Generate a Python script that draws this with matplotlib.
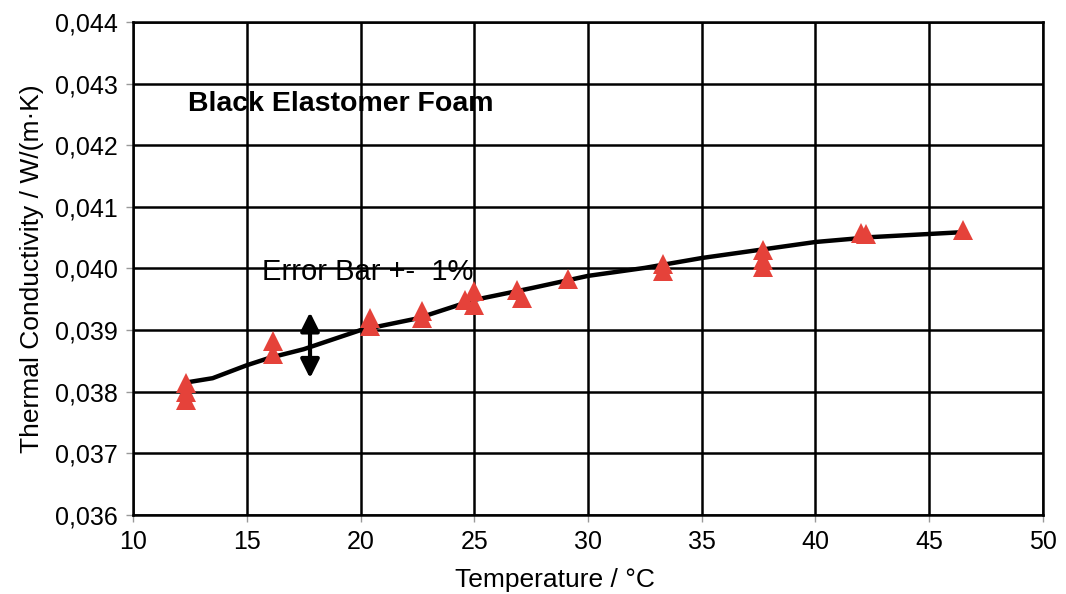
import matplotlib
matplotlib.use('Agg')
import matplotlib.pyplot as plt
from matplotlib.ticker import FuncFormatter

plt.rcParams['font.family'] = ['Liberation Sans', 'DejaVu Sans']

# measured points (temperature / degC, conductivity / W/(m K))
temp_pts = [12.33, 12.33, 12.33, 16.15, 16.15, 20.42, 20.42, 22.7, 22.7,
            24.6, 25.0, 25.0, 26.9, 27.1, 29.1, 33.3, 33.3,
            37.7, 37.7, 37.7, 42.0, 42.2, 46.5]
lam_pts = [0.03814, 0.03799, 0.03786, 0.03882, 0.03861, 0.03920, 0.03906,
           0.03931, 0.03920, 0.03949, 0.03963, 0.03941, 0.03965, 0.03952,
           0.03983, 0.04007, 0.03996, 0.04030, 0.04014, 0.04003,
           0.04058, 0.04056, 0.04062]

# fitted curve
temp_line = [12.5, 13.5, 15, 16, 17.5, 20, 22.5, 25, 27.5, 30,
             32.5, 35, 37.5, 40, 42.5, 45, 46.5]
lam_line = [0.03816, 0.03822, 0.03843, 0.03855, 0.03869, 0.03900, 0.03919,
            0.03949, 0.03968, 0.03988, 0.04001, 0.04017, 0.04030, 0.04043,
            0.04051, 0.04056, 0.04059]

fig = plt.figure(figsize=(10.66, 5.94), dpi=100)
ax = fig.add_axes([0.1248, 0.133, 0.8536, 0.830])

ax.plot(temp_line, lam_line, color='black', linewidth=3.2, zorder=3)
ax.plot(temp_pts, lam_pts, linestyle='none', marker='^', markersize=15,
        color='#e5423a', markeredgewidth=0, zorder=4)

# error bar arrow
ax.annotate('', xy=(17.78, 0.03929), xytext=(17.78, 0.03822),
            arrowprops=dict(arrowstyle='<|-|>', color='black', lw=3,
                            mutation_scale=28, shrinkA=0, shrinkB=0), zorder=5)
ax.text(15.67, 0.03995, 'Error Bar +-  1%', fontsize=21, va='center', ha='left', zorder=6)
ax.text(12.42, 0.04267, 'Black Elastomer Foam', fontsize=20.5, fontweight='bold',
        va='center', ha='left', zorder=6)

ax.set_xlim(10, 50)
ax.set_ylim(0.036, 0.044)
ax.set_xticks(range(10, 51, 5))
ax.set_yticks([0.036 + 0.001 * i for i in range(9)])
ax.yaxis.set_major_formatter(FuncFormatter(lambda v, p: f'{v:.3f}'.replace('.', ',')))
ax.tick_params(direction='out', length=5, width=1, color='#999999',
               labelsize=18, pad=6)
ax.grid(True, color='black', linewidth=1.8)
ax.set_axisbelow(True)
for s in ax.spines.values():
    s.set_color('black')
    s.set_linewidth(1.8)

ax.set_xlabel('Temperature / °C', fontsize=19)
ax.xaxis.set_label_coords(0.464, -0.108)
ax.set_ylabel('Thermal Conductivity / W/(m·K)', fontsize=19, labelpad=8)

fig.savefig('out.png', dpi=100, facecolor='white')
